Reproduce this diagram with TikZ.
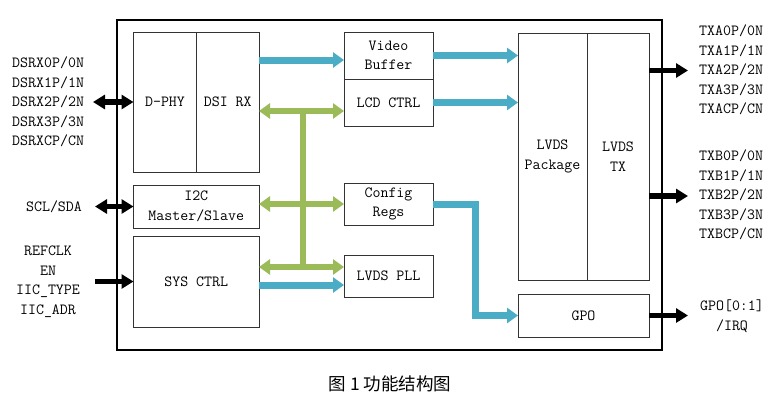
\documentclass[tikz,border=0pt]{standalone}
\usepackage{fontspec}
\newfontfamily\cjk{Noto Sans CJK SC}
\usetikzlibrary{arrows.meta,positioning,calc}
\definecolor{flowblue}{RGB}{75,172,198}
\definecolor{busgreen}{RGB}{155,187,89}
\newcommand\lblfont{\ttfamily\fontsize{15.5}{19.5}\selectfont}

\begin{document}
\begin{tikzpicture}[x=1pt,y=-1pt,
    blk/.style={draw=black!80,line width=.8pt,font=\lblfont,align=center,inner sep=0pt,outer sep=0pt},
    pin/.style={font=\lblfont,inner sep=0pt},
    flow/.style={draw=flowblue,line width=7pt,line join=miter,>={Triangle[length=11pt,width=15pt]},->},
    bus/.style={draw=busgreen,line width=6.5pt,>={Triangle[length=11pt,width=15pt]},<->},
    io/.style={draw=black,line width=5.5pt,>={Triangle[length=12pt,width=14pt]}}]
  \useasboundingbox (0,0) rectangle (781,410);
  \draw[line width=2.5pt] (117,20) rectangle (662,350);

  % blocks
  \node[blk,minimum width=63pt,minimum height=140pt] (dphy) at (165,102) {D-PHY};
  \node[blk,minimum width=62.5pt,minimum height=140pt,right=0pt of dphy] (dsirx) {DSI RX};
  \node[blk,minimum width=125.5pt,minimum height=43pt] (i2c) at (196.25,206.5) {I2C\\Master/Slave};
  \node[blk,minimum width=125.5pt,minimum height=91pt] (sys) at (196.25,281.5) {SYS CTRL};
  \node[blk,minimum width=89pt,minimum height=47pt] (vbuf) at (388.5,55.5) {Video\\Buffer};
  \node[blk,minimum width=89pt,minimum height=47pt,below=0pt of vbuf] (lcd) {LCD CTRL};
  \node[blk,minimum width=89pt,minimum height=42pt] (cfg) at (388.5,204) {Config\\Regs};
  \node[blk,minimum width=89pt,minimum height=42pt] (pll) at (388.5,276) {LVDS PLL};
  \node[blk,minimum width=69pt,minimum height=247pt] (pkg) at (552.5,156.5) {LVDS\\Package};
  \node[blk,minimum width=62pt,minimum height=247pt,right=0pt of pkg] (tx) {LVDS\\TX};
  \node[blk,minimum width=131pt,minimum height=43pt] (gpo) at (583.5,315.5) {GPO};

  % pins
  \node[pin,align=left,anchor=west] (dsrx) at (12,102)
    {DSRX0P/0N\\DSRX1P/1N\\DSRX2P/2N\\DSRX3P/3N\\DSRXCP/CN};
  \node[pin] (scl) at (54,207) {SCL/SDA};
  \node[pin,align=center] (refclk) at (48,281.5) {REFCLK\\EN\\IIC\_TYPE\\IIC\_ADR};
  \node[pin,align=left,anchor=west] (txa) at (699,70)
    {TXA0P/0N\\TXA1P/1N\\TXA2P/2N\\TXA3P/3N\\TXACP/CN};
  \node[pin,align=left,anchor=west] (txb) at (699,195)
    {TXB0P/0N\\TXB1P/1N\\TXB2P/2N\\TXB3P/3N\\TXBCP/CN};
  \node[pin,align=center] (gpoio) at (732,316) {GPO[0:1]\\/IRQ};

  \coordinate (dsrxend) at (93,102); \coordinate (sclend) at (95,206.5);
  \coordinate (refend) at (95,281.5); \coordinate (txaend) at (688,70.5);
  \coordinate (txbend) at (688,196); \coordinate (gpoend) at (688,315.5);
  \coordinate (bustop) at (303,111); \coordinate (busbot) at (303,267);
  \coordinate (vin) at ([yshift=-4.5pt]vbuf.west);
  \coordinate (pllin) at ([yshift=-9pt]pll.west);

  % black io
  \draw[io,<->] (dsrxend) -- (dphy.west);
  \draw[io,<->] (sclend) -- (i2c.west);
  \draw[io,->] (refend) -- (sys.west);
  \draw[io,->] (tx.east |- txaend) -- (txaend);
  \draw[io,->] (tx.east |- txbend) -- (txbend);
  \draw[io,->] (gpo.east) -- (gpoend);

  % data flow
  \draw[flow] (dsirx.east |- vin) -- (vin);
  \draw[flow] (vbuf.east) -- (pkg.west |- vbuf.east);
  \draw[flow] (lcd.east) -- (pkg.west |- lcd.east);
  \draw[flow] (sys.east |- pllin) -- (pllin);
  \draw[flow] (cfg.east) -| ($(cfg.east)!.5!(gpo.west)$) |- (gpo.west);

  % control bus
  \draw[bus,-] (bustop) -- (busbot);
  \draw[bus] (dsirx.east |- bustop) -- (lcd.west |- bustop);
  \draw[bus] (i2c.east |- cfg.west) -- (cfg.west);
  \draw[bus] (sys.east |- busbot) -- (pll.west |- busbot);

  \node[font=\cjk\fontsize{17.5}{20}\selectfont] (caption) at (390,384) {图\ 1\ 功能结构图};
\end{tikzpicture}
\end{document}
